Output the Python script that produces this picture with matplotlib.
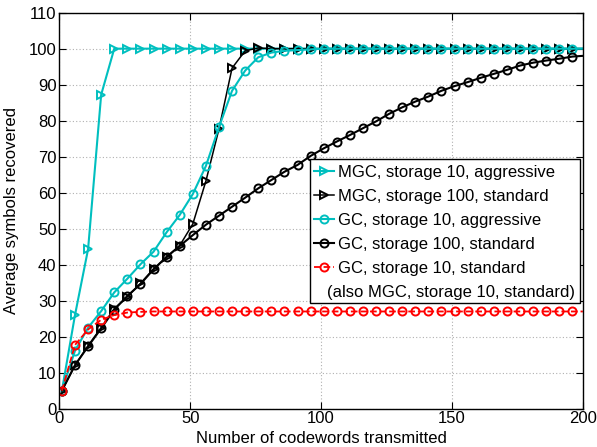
import matplotlib
matplotlib.use("Agg")
import matplotlib.pyplot as plt
from matplotlib.patches import Rectangle

plt.rcParams["font.family"] = ["Liberation Sans", "DejaVu Sans"]

# sample positions (markers every 5 codewords, line ends at 200)
X = [1, 6, 11, 16, 21, 26, 31, 36, 41, 46, 51, 56, 61, 66, 71, 76, 81, 86, 91, 96,
     101, 106, 111, 116, 121, 126, 131, 136, 141, 146, 151, 156, 161, 166, 171, 176,
     181, 186, 191, 196, 200]

mgc_10_aggr = [5, 26, 44.3, 87.2, 100, 100, 100, 100, 100, 100,
               100, 100, 100, 100, 100, 100, 100, 100, 100, 100,
               100, 100, 100, 100, 100, 100, 100, 100, 100, 100,
               100, 100, 100, 100, 100, 100, 100, 100, 100, 100, 100]
mgc_100_std = [5, 12, 17.5, 22.5, 27.8, 31.1, 34.8, 38.8, 42, 45.3,
               51.3, 63.2, 77.7, 94.6, 99.4, 100.2, 100, 100, 100, 100,
               100, 100, 100, 100, 100, 100, 100, 100, 100, 100,
               100, 100, 100, 100, 100, 100, 100, 100, 100, 100, 100]
gc_10_aggr = [5, 16.1, 22.5, 27.1, 32.3, 36.1, 40.1, 43.6, 49, 53.8,
              59.6, 67.4, 78.2, 88.3, 93.9, 97.6, 98.9, 99.4, 99.6, 99.8,
              100, 100, 100, 100, 100, 100, 100, 100, 100, 100,
              100, 100, 100, 100, 100, 100, 100, 100, 100, 100, 100]
gc_100_std = [5, 12.1, 17.3, 22.3, 27.5, 31.3, 34.6, 38.7, 42.2, 45.2,
              48.2, 51.1, 53.6, 56.1, 58.6, 61.2, 63.5, 65.8, 67.7, 70.2,
              72.3, 74.2, 76, 77.9, 79.8, 81.9, 83.7, 85.3, 86.7, 88.3,
              89.6, 90.7, 91.9, 93, 94.1, 95.3, 96.1, 96.7, 97.2, 97.8, 98.0]
gc_10_std = [5, 17.7, 22, 24.7, 26, 26.7, 26.9, 27, 27, 27,
             27, 27, 27, 27, 27, 27, 27, 27, 27, 27,
             27, 27, 27, 27, 27, 27, 27, 27, 27, 27,
             27, 27, 27, 27, 27, 27, 27, 27, 27, 27, 27]

LABELS = ["MGC, storage 10, aggressive",
          "MGC, storage 100, standard",
          "GC, storage 10, aggressive",
          "GC, storage 100, standard",
          "GC, storage 10, standard"]
EXTRA_LABEL = "(also MGC, storage 10, standard)"

CYAN = "#00BFBF"
MARK_IDX = list(range(len(X) - 1))

fig = plt.figure(figsize=(5.97, 4.47), dpi=100)
ax = fig.add_axes([0.0993, 0.0857, 0.877, 0.886])

styles = [
    (mgc_10_aggr, CYAN, ">", "-", 1.5),
    (mgc_100_std, "black", ">", "-", 1.1),
    (gc_10_aggr, CYAN, "o", "-", 1.5),
    (gc_100_std, "black", "o", "-", 1.5),
    (gc_10_std, "red", "o", "--", 1.3),
]
handles = []
for (ys, col, mk, ls, lw), lab in zip(styles, LABELS):
    h, = ax.plot(X, ys, color=col, marker=mk, linestyle=ls, linewidth=lw,
                 markersize=5.8, markerfacecolor="none", markeredgewidth=1.4,
                 markevery=MARK_IDX, label=lab)
    handles.append(h)

ax.set_xlim(0, 200)
ax.set_ylim(0, 110)
ax.set_xticks([0, 50, 100, 150, 200])
ax.set_yticks(range(0, 111, 10))
ax.tick_params(direction="in", length=5, labelsize=12, top=True, right=True, pad=2)
ax.grid(True, linestyle=(0, (1, 2)), color="#b0b0b0", linewidth=0.8)
for s in ax.spines.values():
    s.set_linewidth(1.0)

ax.set_xlabel("Number of codewords transmitted", fontsize=12, labelpad=3.5)
ax.set_ylabel("Average symbols recovered", fontsize=12, labelpad=7)

# legend box drawn by hand so the extra second line fits inside it
box = Rectangle((0.479, 0.266), 0.5155, 0.3646, transform=ax.transAxes,
                facecolor="white", edgecolor="black", linewidth=1.0, zorder=4)
ax.add_patch(box)
leg = ax.legend(handles, LABELS, loc="upper left", bbox_to_anchor=(0.487, 0.615),
                fontsize=12, frameon=False, handlelength=1.2, handletextpad=0.2,
                borderpad=0, labelspacing=0.54, borderaxespad=0)
leg.set_zorder(5)
ax.text(0.511, 0.2945, EXTRA_LABEL, transform=ax.transAxes,
        fontsize=12, va="center", ha="left", zorder=6)

fig.savefig("out.png", dpi=100)
